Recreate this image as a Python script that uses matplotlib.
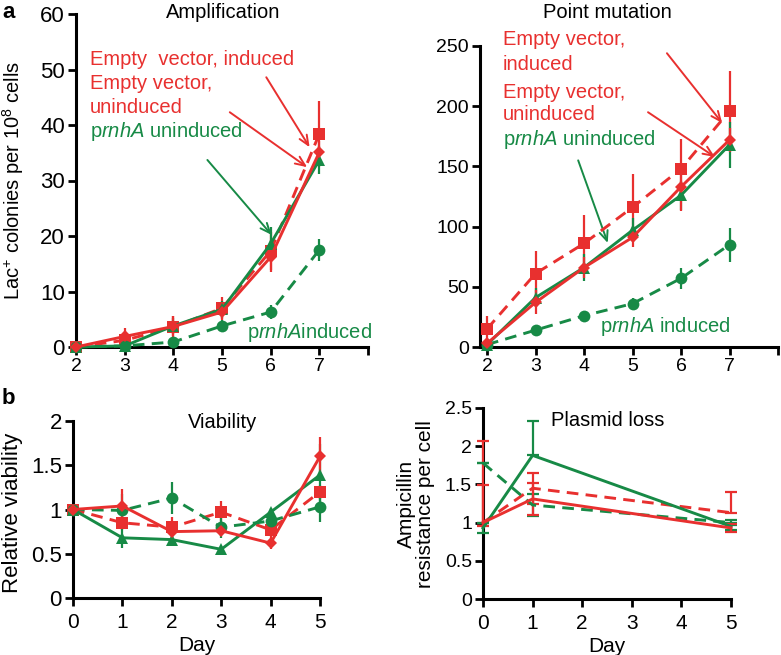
import matplotlib
matplotlib.use("Agg")
import matplotlib.pyplot as plt
import numpy as np

plt.rcParams['font.family'] = ['Liberation Sans', 'DejaVu Sans']
plt.rcParams['mathtext.fontset'] = 'custom'
plt.rcParams['mathtext.rm'] = 'Liberation Sans'
plt.rcParams['mathtext.it'] = 'Liberation Sans:italic'

RED = '#E8302F'
GREEN = '#178A46'

# ---------------- data ----------------
amp_days = [2, 3, 4, 5, 6, 7]
amp_ev_ind = [0, 1.2, 3.6, 7.0, 17.3, 38.4]
amp_ev_ind_err = [0, 1.2, 2.0, 2.0, 3.4, 5.9]
amp_ev_unind = [0, 1.9, 3.7, 6.3, 16.2, 35.1]
amp_ev_unind_err = [0, 1.5, 1.8, 1.5, 2.7, 2.0]
amp_p_unind = [0, 0.2, 3.8, 6.8, 18.6, 33.7]
amp_p_unind_err = [0, 0.5, 1.5, 1.5, 3.0, 2.5]
amp_p_ind = [0, 0.2, 0.9, 3.8, 6.3, 17.5]
amp_p_ind_err = [0, 0.3, 0.5, 1.0, 1.3, 2.0]

pm_days = [2, 3, 4, 5, 6, 7]
pm_ev_ind = [15, 61, 86, 116, 148, 196]
pm_ev_ind_err = [11, 19, 24, 28, 25, 33]
pm_ev_unind = [3, 37, 66, 91, 133, 172]
pm_ev_unind_err = [0, 10, 9, 8, 20, 10]
pm_p_unind = [2, 41, 66, 97, 126, 168]
pm_p_unind_err = [0, 8, 11, 10, 12, 19]
pm_p_ind = [2, 14, 26, 36, 57, 85]
pm_p_ind_err = [0, 2, 2, 5, 9, 14]

via_days = [0, 1, 2, 3, 4, 5]
via_ev_ind = [1.0, 0.85, 0.80, 0.97, 0.77, 1.20]
via_ev_ind_err = [0, 0.08, 0.12, 0.13, 0.08, 0.08]
via_ev_unind = [1.0, 1.04, 0.75, 0.76, 0.62, 1.60]
via_ev_unind_err = [0, 0.19, 0.06, 0.06, 0.07, 0.22]
via_p_unind = [1.0, 0.68, 0.66, 0.55, 0.97, 1.39]
via_p_unind_err = [0, 0.11, 0.04, 0.03, 0.05, 0.35]
via_p_ind = [1.0, 0.99, 1.13, 0.80, 0.87, 1.03]
via_p_ind_err = [0, 0.18, 0.18, 0.12, 0.10, 0.17]

pl_days = [0, 1, 5]
pl_ev_ind = [1.0, 1.45, 1.13]
pl_ev_ind_err = [[0.0, 0.20, 0.0], [1.07, 0.20, 0.27]]
pl_ev_unind = [1.0, 1.31, 0.93]
pl_ev_unind_err = [[0.05, 0.21, 0.05], [0.49, 0.21, 0.05]]
pl_p_unind = [0.93, 1.88, 0.95]
pl_p_unind_err = [[0.07, 0.0, 0.05], [0.07, 0.45, 0.05]]
pl_p_ind = [1.78, 1.23, 1.0]
pl_p_ind_err = [[0.0, 0.15, 0.03], [0.0, 0.15, 0.03]]

W, H = 781, 655
fig = plt.figure(figsize=(W / 100, H / 100), dpi=100)
TXT = 14.5

def px_axes(left, right, bottom, top):
    return fig.add_axes([left / W, (H - bottom) / H, (right - left) / W, (bottom - top) / H])

def style(ax, ysize, xsize, xpad=2):
    for s in ['top', 'right']:
        ax.spines[s].set_visible(False)
    for s in ['left', 'bottom']:
        ax.spines[s].set_linewidth(2.2)
    ax.tick_params(direction='out', length=6, width=2, pad=2)
    ax.tick_params(axis='y', labelsize=ysize)
    ax.tick_params(axis='x', labelsize=xsize, pad=xpad)

def series(ax, x, y, e, color, ls, marker, ms):
    ax.errorbar(x, y, yerr=e, color=color, ls=ls, lw=2.1,
                marker=marker, ms=ms, mew=0,
                ecolor=color, elinewidth=1.6, capsize=4, capthick=1.6,
                dashes=(4, 2.5) if ls == '--' else (None, None),
                clip_on=False, zorder=3)

def four(ax, x, a, ae, b, be, c, ce, d, de, markers=True):
    if markers:
        series(ax, x, a, ae, RED, '--', 's', 8.5)
        series(ax, x, d, de, GREEN, '--', 'o', 8.5)
        series(ax, x, c, ce, GREEN, '-', '^', 8.5)
        series(ax, x, b, be, RED, '-', 'D', 6.5)
    else:
        for y, e, col, ls in [(a, ae, RED, '--'), (d, de, GREEN, '--'),
                              (c, ce, GREEN, '-'), (b, be, RED, '-')]:
            ax.errorbar(x, y, yerr=e, color=col, lw=2.1, ecolor=col,
                        elinewidth=1.6, capsize=4, capthick=1.6,
                        ls=ls, dashes=(4, 2.5) if ls == '--' else (None, None),
                        clip_on=False, zorder=3)

def txt(ax, x, y, s, color):
    ax.text(x, y, s, color=color, fontsize=TXT, ha='left', va='baseline')

def arrow(ax, x0, y0, x1, y1, color):
    ax.annotate('', xy=(x1, y1), xytext=(x0, y0),
                arrowprops=dict(arrowstyle='->,head_length=0.7,head_width=0.3',
                                color=color, lw=1.4, shrinkA=0, shrinkB=0))

# ---------------- Amplification ----------------
ax1 = px_axes(76, 368, 347, 14)
four(ax1, amp_days, amp_ev_ind, amp_ev_ind_err, amp_ev_unind, amp_ev_unind_err,
     amp_p_unind, amp_p_unind_err, amp_p_ind, amp_p_ind_err)
ax1.set_xlim(2, 8)
ax1.set_ylim(0, 60)
ax1.set_xticks([2, 3, 4, 5, 6, 7, 8])
ax1.set_xticklabels(['2', '3', '4', '5', '6', '7', ''])
ax1.set_yticks([0, 10, 20, 30, 40, 50, 60])
style(ax1, 16, 14)
ax1.text((223 - 76) / 292, (347 - 13) / 333, 'Amplification', transform=ax1.transAxes,
         ha='center', va='center', fontsize=TXT)
txt(ax1, 2.29, 50.8, 'Empty  vector, induced', RED)
txt(ax1, 2.29, 46.5, 'Empty vector,', RED)
txt(ax1, 2.29, 42.2, 'uninduced', RED)
txt(ax1, 2.29, 37.8, r'p$\mathit{rnhA}$ uninduced', GREEN)
txt(ax1, 5.52, 1.6, r'p$\mathit{rnhA}$induced', GREEN)
arrow(ax1, 5.91, 48.6, 6.80, 36.0, RED)
arrow(ax1, 5.16, 42.3, 6.75, 32.4, RED)
arrow(ax1, 4.70, 33.7, 6.02, 20.2, GREEN)

# ---------------- Point mutation ----------------
ax2 = px_axes(480, 778, 347, 46)
four(ax2, pm_days, pm_ev_ind, pm_ev_ind_err, pm_ev_unind, pm_ev_unind_err,
     pm_p_unind, pm_p_unind_err, pm_p_ind, pm_p_ind_err)
ax2.set_xlim(2 - 7 / 48.5, 8)
ax2.set_ylim(0, 250)
ax2.set_xticks([2, 3, 4, 5, 6, 7, 8])
ax2.set_xticklabels(['2', '3', '4', '5', '6', '7', ''])
ax2.set_yticks([0, 50, 100, 150, 200, 250])
style(ax2, 14, 14)
ax2.text((607 - 480) / 298, (347 - 12) / 301, 'Point mutation', transform=ax2.transAxes,
         ha='center', va='center', fontsize=TXT)
txt(ax2, 2.33, 250.8, 'Empty vector,', RED)
txt(ax2, 2.33, 230, 'induced', RED)
txt(ax2, 2.33, 206.8, 'Empty vector,', RED)
txt(ax2, 2.33, 188.5, 'uninduced', RED)
txt(ax2, 2.33, 167.8, r'p$\mathit{rnhA}$ uninduced', GREEN)
txt(ax2, 4.33, 12.5, r'p$\mathit{rnhA}$ induced', GREEN)
arrow(ax2, 5.71, 244, 6.85, 186, RED)
arrow(ax2, 5.32, 195, 6.70, 157.8, RED)
arrow(ax2, 3.88, 155, 4.49, 86.4, GREEN)

# ---------------- Viability ----------------
ax3 = px_axes(73, 320, 598, 421)
four(ax3, via_days, via_ev_ind, via_ev_ind_err, via_ev_unind, via_ev_unind_err,
     via_p_unind, via_p_unind_err, via_p_ind, via_p_ind_err)
ax3.set_xlim(0, 5)
ax3.set_ylim(0, 2)
ax3.set_xticks([0, 1, 2, 3, 4, 5])
ax3.set_yticks([0, 0.5, 1, 1.5, 2])
ax3.set_yticklabels(['0', '0.5', '1', '1.5', '2'])
style(ax3, 16, 15, xpad=5)
ax3.text((223 - 73) / 247, (598 - 422) / 177, 'Viability', transform=ax3.transAxes,
         ha='center', va='center', fontsize=TXT)
ax3.set_xlabel('Day', fontsize=15, labelpad=3)

# ---------------- Plasmid loss ----------------
ax4 = px_axes(483, 731, 599, 408)
four(ax4, pl_days, pl_ev_ind, pl_ev_ind_err, pl_ev_unind, pl_ev_unind_err,
     pl_p_unind, pl_p_unind_err, pl_p_ind, pl_p_ind_err, markers=False)
ax4.set_xlim(0, 5)
ax4.set_ylim(0, 2.5)
ax4.set_xticks([0, 1, 2, 3, 4, 5])
ax4.set_yticks([0, 0.5, 1, 1.5, 2, 2.5])
ax4.set_yticklabels(['0', '0.5', '1', '1.5', '2', '2.5'])
style(ax4, 14, 15, xpad=5)
ax4.text((608 - 483) / 248, (599 - 420) / 191, 'Plasmid loss', transform=ax4.transAxes,
         ha='center', va='center', fontsize=TXT)
ax4.set_xlabel('Day', fontsize=15, labelpad=3)

# ---------------- labels ----------------
fig.text(13 / W, (H - 180) / H, r'Lac$^{+}$ colonies per 10$^{8}$ cells', rotation=90,
         ha='center', va='center', fontsize=14.5)
fig.text(13 / W, (H - 513) / H, 'Relative viability', rotation=90,
         ha='center', va='center', fontsize=16)
fig.text(416 / W, (H - 504) / H, 'Ampicillin\nresistance per cell', rotation=90,
         ha='center', va='center', fontsize=15, linespacing=1.0)
fig.text(2 / W, (H - 13) / H, 'a', fontsize=16, fontweight='bold', ha='left', va='center')
fig.text(2 / W, (H - 398) / H, 'b', fontsize=16, fontweight='bold', ha='left', va='center')

fig.savefig('out.png', dpi=100)
